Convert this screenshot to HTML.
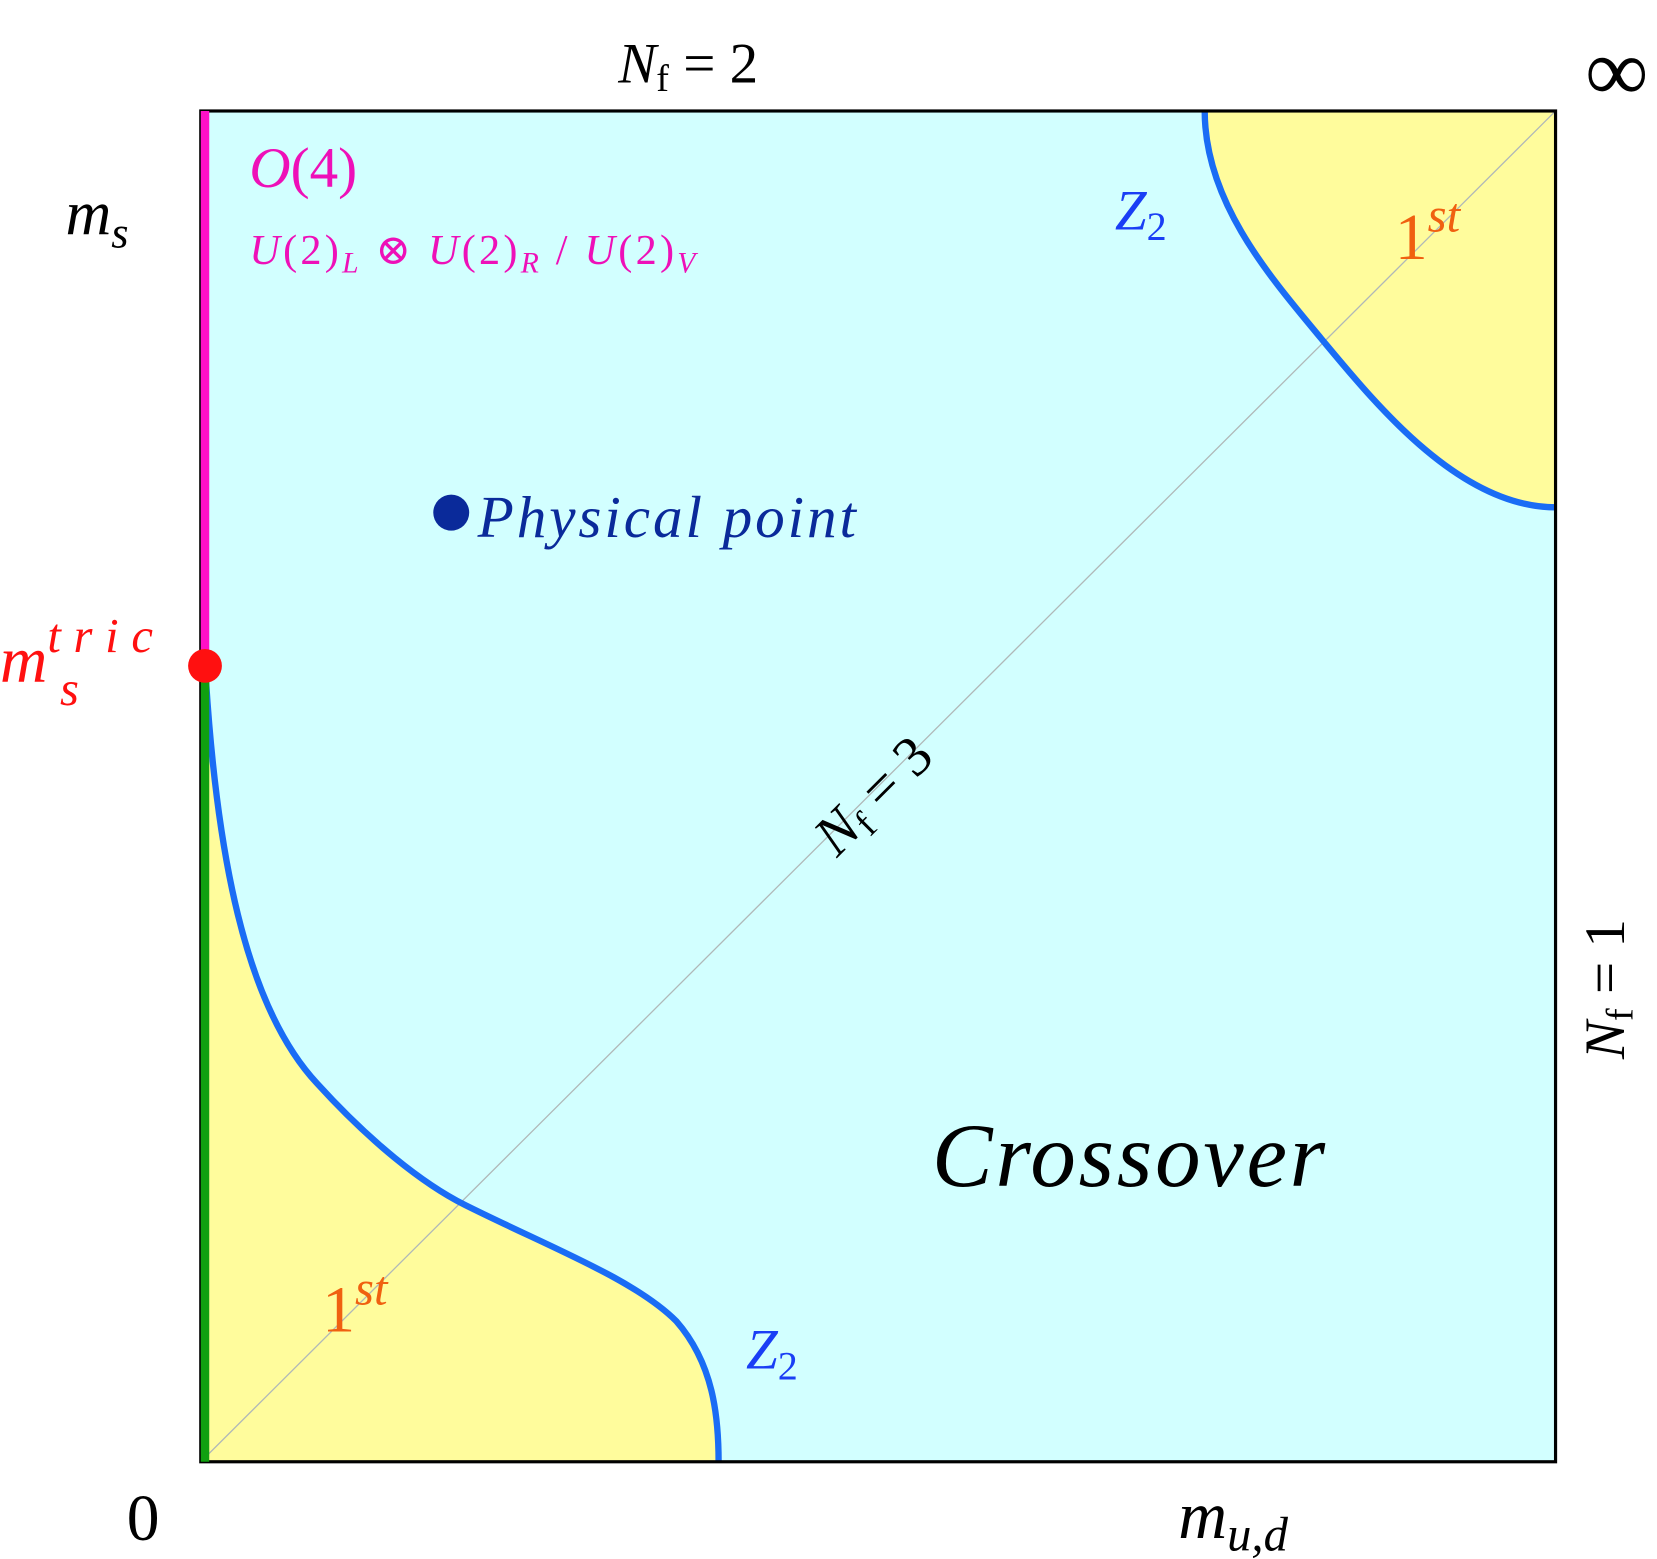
<!DOCTYPE html>
<html><head><meta charset="utf-8"><style>
html,body{margin:0;padding:0;background:#fff;}
svg{display:block;}
text{font-family:"Liberation Serif","DejaVu Serif",serif;}
.i{font-style:italic;}
</style></head><body>
<svg width="1657" height="1559" viewBox="0 0 1568 1475" preserveAspectRatio="none" xmlns="http://www.w3.org/2000/svg">
<rect x="190" y="105" width="1282" height="1278" fill="#d2ffff"/>
<path d="M195,645 C205,800 230,950 300,1025 C350,1080 400,1120 440,1140 C520,1180 600,1210 640,1250 C675,1290 680,1340 680,1383 L190,1383 L190,645 Z" fill="#fffc9c"/>
<path d="M1140,105 C1140,190 1200,260 1250,320 S1380,480 1472,480 L1472,105 Z" fill="#fffc9c"/>
<line x1="190" y1="1383" x2="1472" y2="105" stroke="#b0b8b8" stroke-width="1.2"/>
<path d="M195,645 C205,800 230,950 300,1025 C350,1080 400,1120 440,1140 C520,1180 600,1210 640,1250 C675,1290 680,1340 680,1383" fill="none" stroke="#1a6cf5" stroke-width="6"/>
<path d="M1140,105 C1140,190 1200,260 1250,320 S1380,480 1472,480" fill="none" stroke="#1a6cf5" stroke-width="6"/>
<rect x="190" y="105" width="1282" height="1278" fill="none" stroke="#000" stroke-width="3"/>
<line x1="194" y1="105" x2="194" y2="632" stroke="#ff10c8" stroke-width="8"/>
<line x1="194" y1="640" x2="194" y2="1383" stroke="#10a010" stroke-width="8"/>
<circle cx="194" cy="630" r="16" fill="#ff1010"/>
<circle cx="427" cy="485" r="17" fill="#0a2a9a"/>

<text x="585" y="78" font-size="54" class="i">N<tspan font-style="normal" font-size="36" dy="8">f</tspan><tspan font-style="normal" dy="-8"> = 2</tspan></text>
<text x="1500" y="95" font-size="84">∞</text>
<text x="62" y="222" font-size="60" class="i">m<tspan font-size="42" dy="12">s</tspan></text>
<text x="236" y="177" font-size="54" fill="#ee10b8"><tspan class="i">O</tspan>(4)</text>
<text x="236" y="250" font-size="40" fill="#ee10b8" textLength="422"><tspan class="i">U</tspan>(2)<tspan class="i" font-size="28" dy="8">L</tspan><tspan dy="-8"> ⊗ </tspan><tspan class="i">U</tspan>(2)<tspan class="i" font-size="28" dy="8">R</tspan><tspan dy="-8"> / </tspan><tspan class="i">U</tspan>(2)<tspan class="i" font-size="28" dy="8">V</tspan></text>
<text x="1055" y="217" font-size="54" fill="#1a3ef5" class="i">Z<tspan font-style="normal" font-size="38" dy="10">2</tspan></text>
<text x="1320" y="245" font-size="62" fill="#f06010">1<tspan class="i" font-size="46" dy="-26">st</tspan></text>
<text x="452" y="508" font-size="56" fill="#0a2a9a" class="i" textLength="358">Physical point</text>
<text x="0" y="645" font-size="62" fill="#ff1010" class="i">m<tspan font-size="46" dy="-28" textLength="100">tric</tspan><tspan font-size="46" dx="-100" dy="50">s</tspan></text>
<text transform="translate(792,812) rotate(-45)" font-size="54" class="i">N<tspan font-style="normal" font-size="36" dy="8">f</tspan><tspan font-style="normal" dy="-8"> = 3</tspan></text>
<text transform="translate(1537,1002) rotate(-90)" font-size="54" class="i">N<tspan font-style="normal" font-size="36" dy="8">f</tspan><tspan font-style="normal" dy="-8"> = 1</tspan></text>
<text x="882" y="1122" font-size="86" class="i" textLength="372">Crossover</text>
<text x="305" y="1260" font-size="62" fill="#f06010">1<tspan class="i" font-size="46" dy="-26">st</tspan></text>
<text x="706" y="1295" font-size="54" fill="#1a3ef5" class="i">Z<tspan font-style="normal" font-size="38" dy="10">2</tspan></text>
<text x="120" y="1457" font-size="62">0</text>
<text x="1115" y="1455" font-size="64" class="i">m<tspan font-size="46" dy="12">u,d</tspan></text>
</svg>
</body></html>
